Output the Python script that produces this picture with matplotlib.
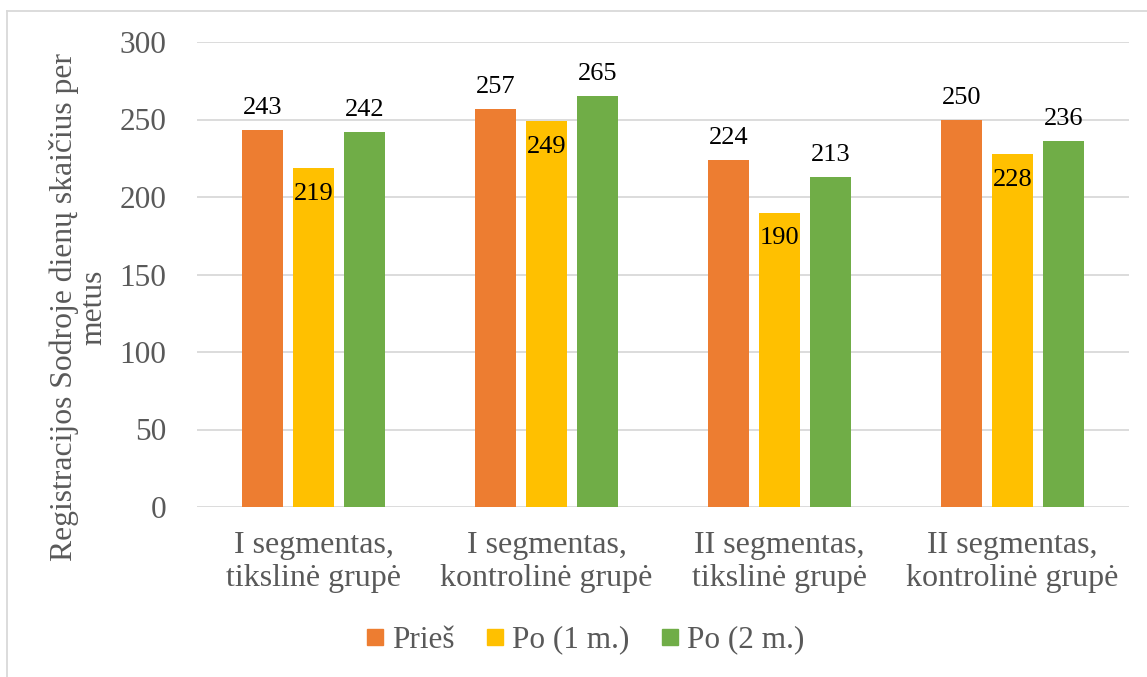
import matplotlib
matplotlib.use("Agg")
import matplotlib.pyplot as plt
import numpy as np
from matplotlib.lines import Line2D

# chart data
categories = ["I segmentas,\ntikslinė grupė", "I segmentas,\nkontrolinė grupė",
              "II segmentas,\ntikslinė grupė", "II segmentas,\nkontrolinė grupė"]
series_names = ["Prieš", "Po (1 m.)", "Po (2 m.)"]
pries = [243, 257, 224, 250]
po_1m = [219, 249, 190, 228]
po_2m = [242, 265, 213, 236]
y_ticks = [0, 50, 100, 150, 200, 250, 300]

colors = ["#ED7D31", "#FFC000", "#70AD47"]
txt_gray = "#595959"
grid_gray = "#D9D9D9"

plt.rcParams['font.family'] = ['Liberation Serif', 'DejaVu Serif']

W, H = 1147, 677
fig = plt.figure(figsize=(W / 100, H / 100), dpi=100)
fig.patch.set_facecolor("white")

# plot area in pixel coordinates
left, right, top, bottom = 197, 1129, 42, 507
ax = fig.add_axes([left / W, 1 - bottom / H, (right - left) / W, (bottom - top) / H])

x = np.arange(len(categories))
bar_w = 0.176
step = 0.219
all_series = [pries, po_1m, po_2m]

for i, (vals, col, name) in enumerate(zip(all_series, colors, series_names)):
    xs = x + (i - 1) * step
    ax.bar(xs, vals, width=bar_w, color=col, zorder=3, label=name)
    for xv, v in zip(xs, vals):
        if i == 1:
            ax.annotate(str(v), (xv, v), xytext=(0, -15), textcoords='offset pixels',
                        ha='center', va='top', fontsize=19, color='black', zorder=4)
        else:
            ax.annotate(str(v), (xv, v), xytext=(0, 11), textcoords='offset pixels',
                        ha='center', va='bottom', fontsize=19, color='black', zorder=4)

ax.set_xlim(-0.5, len(categories) - 0.5)
ax.set_ylim(0, 300)
ax.set_yticks(y_ticks)
ax.set_yticklabels([str(t) for t in y_ticks], fontsize=22.5, color=txt_gray)
ax.set_xticks(x)
ax.set_xticklabels(categories, fontsize=23, color=txt_gray, linespacing=1.2)
ax.tick_params(axis='both', length=0)
ax.tick_params(axis='y', pad=22)
ax.tick_params(axis='x', pad=17)
ax.yaxis.grid(True, color=grid_gray, linewidth=1.3, zorder=0)
ax.set_axisbelow(True)
for s in ax.spines.values():
    s.set_visible(False)

fig.text(79 / W, 1 - 307 / H, "Registracijos Sodroje dienų skaičius per\nmetus",
         rotation=90, ha='center', va='center', fontsize=22.8, color=txt_gray,
         linespacing=1.0)

handles = [Line2D([], [], marker='s', linestyle='none', markersize=12,
                  markerfacecolor=c, markeredgecolor=c) for c in colors]
leg = fig.legend(handles, series_names, loc='center', bbox_to_anchor=(0.51, 1 - 640 / H),
                 ncol=3, frameon=False, fontsize=22.5, handlelength=0.6,
                 handletextpad=0.25, columnspacing=1.0)
for t in leg.get_texts():
    t.set_color(txt_gray)

# outer chart border (top and left edges visible)
fig.add_artist(Line2D([7 / W, 1], [1 - 11 / H, 1 - 11 / H], transform=fig.transFigure,
                      color=grid_gray, linewidth=1.3))
fig.add_artist(Line2D([7 / W, 7 / W], [0, 1 - 11 / H], transform=fig.transFigure,
                      color=grid_gray, linewidth=1.3))

fig.savefig("out.png", dpi=100, facecolor="white")
